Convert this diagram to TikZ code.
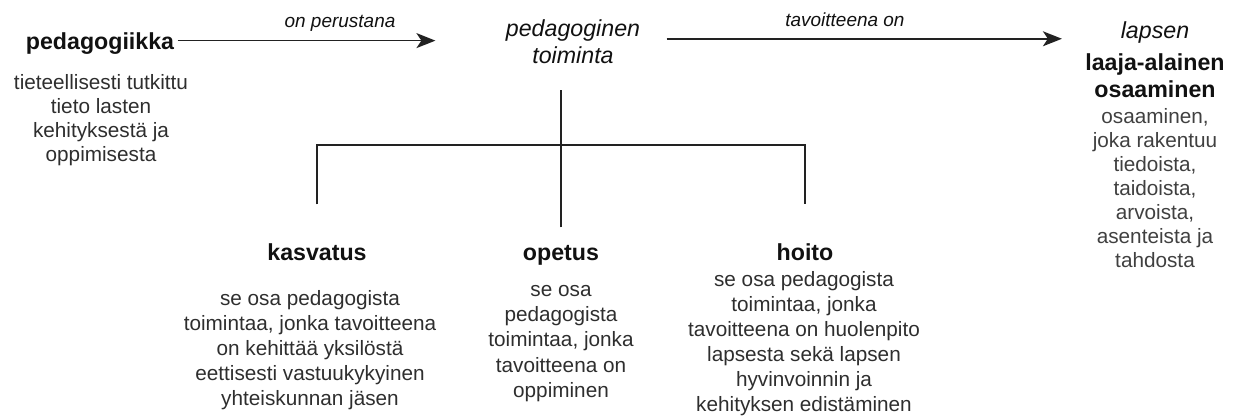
\documentclass[tikz,border=0pt]{standalone}
\usepackage{fontspec}
\setmainfont{Liberation Sans}
\usepackage{tikz}
\usepackage{xcolor}
\usetikzlibrary{positioning, arrows.meta, calc}
\definecolor{pdInk}{HTML}{111111}
\definecolor{pdText}{HTML}{2E2E2E}
\definecolor{pdSoft}{HTML}{404040}
\definecolor{pdRule}{HTML}{222222}
\tikzset{
  pdTitle/.style={inner sep=0pt, outer sep=0pt, text=pdInk,
                  font=\fontsize{13.2pt}{14.8pt}\selectfont\bfseries,
                  text height=0.75em, text depth=0.25em},
  pdHead/.style={inner sep=0pt, outer sep=0pt, text=pdInk, align=center,
                 font=\fontsize{13.2pt}{15.2pt}\selectfont,
                 execute at begin node=\strut},
  pdBody/.style={inner sep=0pt, outer sep=0pt, text=pdText, align=center,
                 font=\fontsize{11.8pt}{14.3pt}\selectfont,
                 execute at begin node=\strut},
  pdTight/.style={font=\fontsize{11.8pt}{13.7pt}\selectfont},
  pdArrow/.style={-{Stealth[length=3.8mm, width=3mm, inset=1mm]}, line width=0.9pt, draw=pdRule},
  pdLine/.style={line width=0.9pt, draw=pdRule},
  pdLabel/.style={font=\fontsize{10.8pt}{12pt}\selectfont\itshape, text=pdInk,
                  inner sep=0pt, text depth=0pt},
}

\begin{document}
\begin{tikzpicture}
  \useasboundingbox (0,0) rectangle (24.72,-8.30);

  % ─── Top row: source, activity, goal ─────────────────────────────────────────
  \node[pdTitle, anchor=base] (pedag) at (2.00,-0.98) {pedagogiikka};
  \node[pdBody, pdTight, anchor=north] (pedagtxt) at (2.02,-1.49)
       {tieteellisesti tutkittu\\tieto lasten\\kehityksestä ja\\oppimisesta};

  \node[pdHead, anchor=north] (toim) at (11.46,-0.40) {\itshape pedagoginen\\\itshape toiminta};

  \node[pdHead, anchor=north] (goal) at (23.10,-0.44)
       {\itshape lapsen\\[3pt]\bfseries laaja-alainen\\\bfseries osaaminen};
  \node[pdBody, pdTight, anchor=north, text=pdSoft] (goaltxt) at (23.10,-2.16)
       {osaaminen,\\joka rakentuu\\tiedoista,\\taidoista,\\arvoista,\\asenteista ja\\tahdosta};

  % arrows sit a little above the title centres
  \draw[pdArrow, shorten <=2pt, shorten >=1.41cm]
       ([yshift=0.08cm]pedag.east) -- ([yshift=0.08cm]pedag.east -| toim.west)
       node[pdLabel, midway, above=0.24cm] (lab1) {on perustana};
  \draw[pdArrow, shorten <=0.53cm, shorten >=0.47cm]
       ([yshift=0.14cm]toim.east) -- ([yshift=0.14cm]toim.east -| goal.west)
       node[pdLabel, pos=0.46, above=0.22cm] (lab2) {tavoitteena on};

  % ─── Bottom row: the three parts ─────────────────────────────────────────────
  \node[pdTitle, anchor=base] (kasv) at (6.34,-5.20) {kasvatus};
  \node[pdBody, anchor=north] (kasvtxt) at (6.20,-5.80)
       {se osa pedagogista\\toimintaa, jonka tavoitteena\\on kehittää yksilöstä\\eettisesti vastuukykyinen\\yhteiskunnan jäsen};

  \node[pdTitle, anchor=base] (opet) at (11.22,-5.20) {opetus};
  \node[pdBody, anchor=north] (opettxt) at (11.22,-5.71)
       {se osa\\pedagogista\\toimintaa, jonka\\tavoitteena on\\oppiminen};

  \node[pdTitle, anchor=base] (hoito) at (16.10,-5.20) {hoito};
  \node[pdBody, anchor=north] (hoitotxt) at (16.08,-5.42)
       {se osa pedagogista\\toimintaa, jonka\\tavoitteena on huolenpito\\lapsesta sekä lapsen\\hyvinvoinnin ja\\kehityksen edistäminen};

  % ─── Tree from the activity to its parts ─────────────────────────────────────
  \coordinate (fork) at (11.22,-2.90);
  \draw[pdLine, shorten <=0.39cm, shorten >=0.36cm] (opet.north) -- (opet.north |- toim.south);
  \draw[pdLine, shorten <=0.85cm, shorten >=0.85cm] (kasv.north) |- (fork) -| (hoito.north);

\end{tikzpicture}
\end{document}
